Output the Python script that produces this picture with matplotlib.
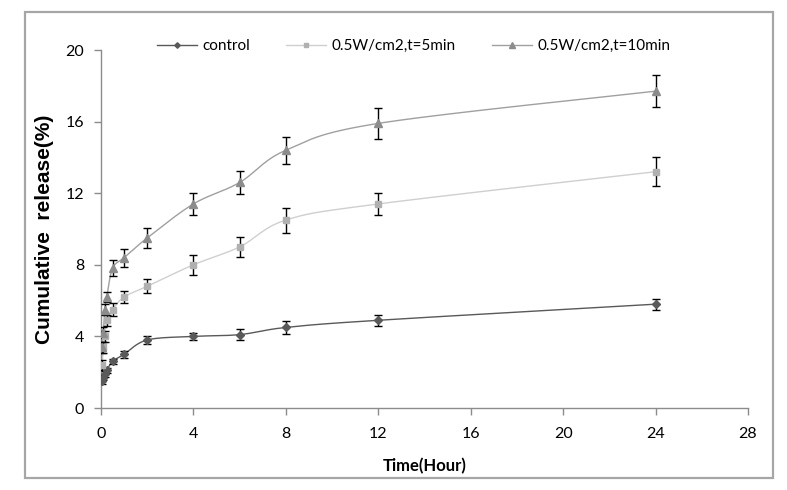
import numpy as np
import matplotlib.pyplot as plt
from matplotlib.patches import Rectangle

# sampling times (hour)
t = [0.05, 0.1, 0.167, 0.25, 0.5, 1, 2, 4, 6, 8, 12, 24]

control = [1.5, 1.7, 1.9, 2.1, 2.6, 3.0, 3.8, 4.0, 4.1, 4.5, 4.9, 5.8]
control_err = [0.15, 0.15, 0.15, 0.15, 0.15, 0.2, 0.25, 0.2, 0.3, 0.35, 0.3, 0.3]

w5 = [2.4, 3.4, 4.0, 4.9, 5.5, 6.2, 6.8, 8.0, 9.0, 10.5, 11.4, 13.2]
w5_err = [0.3, 0.3, 0.3, 0.3, 0.35, 0.35, 0.4, 0.55, 0.55, 0.7, 0.63, 0.8]

w10 = [3.4, 4.2, 5.5, 6.2, 7.8, 8.4, 9.5, 11.4, 12.6, 14.4, 15.9, 17.7]
w10_err = [0.3, 0.3, 0.3, 0.3, 0.45, 0.5, 0.55, 0.6, 0.65, 0.75, 0.85, 0.9]

labels = ["control", "0.5W/cm2,t=5min", "0.5W/cm2,t=10min"]


def smooth(x, y, n=30):
    # catmull-rom style curve through the points, like excel's smoothed line
    x = np.asarray(x, float)
    y = np.asarray(y, float)
    px = np.concatenate([[x[0]], x, [x[-1]]])
    py = np.concatenate([[y[0]], y, [y[-1]]])
    xs, ys = [], []
    s = np.linspace(0, 1, n)
    for i in range(1, len(px) - 2):
        p0, p1, p2, p3 = [np.array([px[j], py[j]]) for j in (i - 1, i, i + 1, i + 2)]
        b1 = p1 + (p2 - p0) / 6
        b2 = p2 - (p3 - p1) / 6
        pts = ((1 - s) ** 3)[:, None] * p1 + (3 * (1 - s) ** 2 * s)[:, None] * b1 \
            + (3 * (1 - s) * s ** 2)[:, None] * b2 + (s ** 3)[:, None] * p2
        xs.extend(pts[:, 0])
        ys.extend(pts[:, 1])
    return xs, ys


fig = plt.figure(figsize=(7.87, 4.9), dpi=100)
ax = fig.add_axes([101 / 787, 1 - 408 / 490, 647 / 787, 358 / 490])

# outer frame
fig.patches.append(Rectangle((25 / 787, 1 - 478 / 490), 748 / 787, 466 / 490,
                             transform=fig.transFigure, fill=False,
                             edgecolor="#a6a6a6", linewidth=1.6))

series = [
    (control, control_err, "#595959", "#595959", "D", 4),
    (w5, w5_err, "#cfcfcf", "#b0b0b0", "s", 5),
    (w10, w10_err, "#a0a0a0", "#8c8c8c", "^", 6),
]

for (vals, errs, lc, mc, mk, ms), lab in zip(series, labels):
    sx, sy = smooth(t, vals)
    ax.plot(sx, sy, color=lc, linewidth=1.0, zorder=2)
    ax.errorbar(t, vals, yerr=errs, fmt="none", ecolor="black",
                elinewidth=1.0, capsize=3, capthick=1.0, zorder=3)
    ax.plot(t, vals, linestyle="none", marker=mk, markersize=ms, color=mc,
            markeredgecolor=mc, zorder=4)
    ax.plot([], [], color=lc, linewidth=1.0, marker=mk, markersize=ms * 0.7,
            markerfacecolor=mc, markeredgecolor=mc, label=lab)

ax.set_xlim(0, 28)
ax.set_ylim(0, 20)
ax.set_xticks(range(0, 29, 4))
ax.set_yticks(range(0, 21, 4))

for s in ["top", "right"]:
    ax.spines[s].set_visible(False)
for s in ["left", "bottom"]:
    ax.spines[s].set_color("#8c8c8c")
    ax.spines[s].set_linewidth(1.0)
ax.tick_params(direction="out", length=5, width=1.0, color="#8c8c8c",
               labelsize=11.5, labelcolor="black")
ax.tick_params(axis="x", pad=9)
ax.tick_params(axis="y", pad=7)
for lb in ax.get_xticklabels() + ax.get_yticklabels():
    lb.set_family("Lato")

ax.set_xlabel("Time(Hour)", fontsize=12, fontweight="bold", family="Lato", labelpad=12)
ax.set_ylabel("Cumulative  release(%)", fontsize=15, fontweight="bold",
              family="Liberation Sans", labelpad=8)

leg = ax.legend(loc="upper left", bbox_to_anchor=((157 - 101) / 647, 1.03), ncol=3,
                frameon=False, borderpad=0, borderaxespad=0,
                handlelength=2.6, columnspacing=2.4, handletextpad=0.35,
                prop={"family": "Lato", "size": 11})

fig.savefig("out.png", dpi=100)
